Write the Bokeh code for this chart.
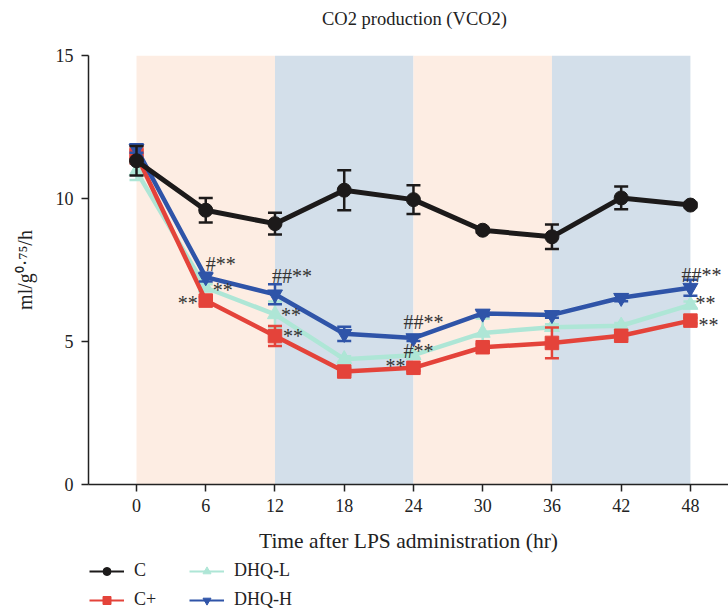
from bokeh.plotting import figure
from bokeh.layouts import column
from bokeh.models import ColumnDataSource, FixedTicker, Legend, LegendItem, Range1d
from bokeh.core.properties import value
from bokeh.embed import file_html
from bokeh.resources import INLINE

# ---------------- data ----------------
time_hr = [0, 6, 12, 18, 24, 30, 36, 42, 48]
x_ticks = [0, 6, 12, 18, 24, 30, 36, 42, 48]
y_ticks = [0, 5, 10, 15]

c_mean = [11.32, 9.59, 9.12, 10.29, 9.96, 8.89, 8.66, 10.02, 9.77]
c_err = [0.52, 0.43, 0.38, 0.70, 0.50, 0.08, 0.43, 0.40, 0.08]

cplus_mean = [11.52, 6.43, 5.19, 3.95, 4.08, 4.80, 4.95, 5.20, 5.73]
cplus_err = [0.30, 0.12, 0.35, 0.10, 0.10, 0.10, 0.54, 0.10, 0.10]

dhql_mean = [10.95, 6.88, 5.95, 4.38, 4.52, 5.30, 5.50, 5.55, 6.28]
dhql_err = [0.30, 0.12, 0.45, 0.10, 0.10, 0.50, 0.10, 0.10, 0.12]

dhqh_mean = [11.75, 7.25, 6.65, 5.27, 5.12, 5.98, 5.93, 6.53, 6.88]
dhqh_err = [0.15, 0.15, 0.35, 0.25, 0.10, 0.10, 0.10, 0.12, 0.28]

# light / dark phases (hours)
phase_start = [0, 12, 24, 36]
phase_end = [12, 24, 36, 48]
phase_kind = ["light", "dark", "light", "dark"]

# significance marks
annot_time = [6, 6, 6, 12, 12, 12, 24, 24, 24, 48, 48, 48]
annot_group = ["DHQ-H", "DHQ-L", "C+", "DHQ-H", "DHQ-L", "C+",
               "DHQ-H", "DHQ-L", "C+", "DHQ-H", "DHQ-L", "C+"]
annot_text = ["#**", "**", "**", "##**", "**", "**",
              "##**", "#**", "**", "##**", "**", "**"]

legend_order = ["C", "C+", "DHQ-L", "DHQ-H"]
title_text = "CO2 production (VCO2)"

# ---------------- styling ----------------
SERIF = "Liberation Serif"
INK = "#222222"
phase_color = {"light": "#fdede3", "dark": "#d3dfea"}

groups = [
    ("C", c_mean, c_err, "#1c1a1a", "circle", 14),
    ("C+", cplus_mean, cplus_err, "#e4433a", "square", 13.5),
    ("DHQ-L", dhql_mean, dhql_err, "#aee6d6", "triangle", 15),
    ("DHQ-H", dhqh_mean, dhqh_err, "#2f54a8", "inverted_triangle", 15),
]
line_widths = {"C": 5, "C+": 4.5, "DHQ-L": 4.5, "DHQ-H": 4.5}
draw_order = ["DHQ-L", "C+", "DHQ-H", "C"]

# pixel offsets for the significance marks (layout only)
annot_layout = [
    (0, -13, "left"), (7, 2, "left"), (-8, 2, "right"),
    (-3, -18, "left"), (6, 1, "left"), (8, 0, "left"),
    (-10, -16, "left"), (-10, -4, "left"), (-8, -2, "right"),
    (-9, -13, "left"), (5, -2, "left"), (8, 4, "left"),
]


def strip(height):
    f = figure(width=728, height=height, x_range=Range1d(0, 1), y_range=Range1d(0, 1),
               output_backend="svg", toolbar_location=None, title=None,
               min_border_left=88, min_border_right=0, min_border_top=0, min_border_bottom=0,
               background_fill_color="white", border_fill_color="white")
    f.axis.visible = False
    f.xgrid.visible = False
    f.ygrid.visible = False
    f.outline_line_color = None
    return f


# ---------------- title strip ----------------
tf = strip(36)
tf.text(x=[0.5], y=[0.5], text=[title_text], x_offset=6, text_align="center",
        text_baseline="middle", text_font=value(SERIF), text_font_size="18.5px", text_color=INK)

# ---------------- main plot ----------------
p = figure(width=728, height=519, title=None,
           x_range=Range1d(-4.16, 51.3), y_range=Range1d(0, 15),
           output_backend="svg", toolbar_location=None,
           min_border_left=88, min_border_right=0,
           min_border_top=19, min_border_bottom=70,
           background_fill_color="white", border_fill_color="white")
p.outline_line_color = None
p.xgrid.visible = False
p.ygrid.visible = False

p.quad(left=phase_start, right=phase_end,
       bottom=[y_ticks[0]] * len(phase_start), top=[y_ticks[-1]] * len(phase_start),
       fill_color=[phase_color[k] for k in phase_kind], line_color=None)

by_name = {g[0]: g for g in groups}
sources = {}
for name in draw_order:
    _, mean, err, color, marker, size = by_name[name]
    src = ColumnDataSource(dict(
        x=time_hr, y=mean,
        lo=[m - e for m, e in zip(mean, err)],
        hi=[m + e for m, e in zip(mean, err)],
    ))
    sources[name] = src
    p.segment(x0="x", y0="lo", x1="x", y1="hi", source=src, line_color=color, line_width=2.5)
    p.scatter(x="x", y="lo", source=src, marker="dash", size=14, line_color=color, line_width=2.5)
    p.scatter(x="x", y="hi", source=src, marker="dash", size=14, line_color=color, line_width=2.5)
    p.line(x="x", y="y", source=src, line_color=color, line_width=line_widths[name])
    p.scatter(x="x", y="y", source=src, marker=marker, size=size,
              fill_color=color, line_color=color)

mean_of = {g[0]: g[1] for g in groups}
ax, ay, at, adx, ady, aal = [], [], [], [], [], []
for t, g, txt, (dx, dy, al) in zip(annot_time, annot_group, annot_text, annot_layout):
    ax.append(t)
    ay.append(mean_of[g][time_hr.index(t)])
    at.append(txt)
    adx.append(dx)
    ady.append(dy)
    aal.append(al)
asrc = ColumnDataSource(dict(x=ax, y=ay, text=at, dx=adx, dy=ady, align=aal))
p.text(x="x", y="y", text="text", source=asrc, x_offset="dx", y_offset="dy",
       text_align="align", text_baseline="middle",
       text_font=value(SERIF), text_font_size="20px", text_color="#333333")

for ax_ in (p.xaxis[0], p.yaxis[0]):
    ax_.axis_line_color = INK
    ax_.axis_line_width = 1.5
    ax_.major_tick_line_color = INK
    ax_.major_tick_line_width = 1.5
    ax_.major_tick_in = 0
    ax_.major_tick_out = 7
    ax_.minor_tick_line_color = None
    ax_.major_label_text_font = SERIF
    ax_.major_label_text_font_size = "18px"
    ax_.major_label_text_color = INK
    ax_.axis_label_text_font = SERIF
    ax_.axis_label_text_font_style = "normal"
    ax_.axis_label_text_color = INK

p.xaxis.ticker = FixedTicker(ticks=x_ticks)
p.yaxis.ticker = FixedTicker(ticks=y_ticks)
p.xaxis.axis_label = "Time after LPS administration (hr)"
p.yaxis.axis_label = "ml/g\u2070\u00b7\u2077\u2075/h"
p.xaxis.axis_label_text_font_size = "21.5px"
p.yaxis.axis_label_text_font_size = "20px"
p.xaxis.major_label_standoff = 7
p.yaxis.major_label_standoff = 8
p.xaxis.axis_label_standoff = 14
p.yaxis.axis_label_standoff = 17

# ---------------- legend strip ----------------
lf = strip(59)
items = []
for name in legend_order:
    _, mean, err, color, marker, size = by_name[name]
    # same data as the chart; it falls outside this strip's ranges, only the key is seen
    lr = lf.line(x="x", y="y", source=sources[name], line_color=color, line_width=2)
    mr = lf.scatter(x="x", y="y", source=sources[name], marker=marker, size=12,
                    fill_color=color, line_color=color)
    items.append(LegendItem(label=name, renderers=[lr, mr]))

legend = Legend(items=items, location=(1, 4), orientation="vertical", ncols=2,
                glyph_width=35, glyph_height=20, label_standoff=10, spacing=8,
                label_width=47, padding=0, margin=0,
                border_line_color=None, background_fill_alpha=0,
                label_text_font=SERIF, label_text_font_size="18px", label_text_color=INK)
lf.add_layout(legend, "center")

open("out.html", "w").write(file_html(column(tf, p, lf, spacing=0), INLINE))
